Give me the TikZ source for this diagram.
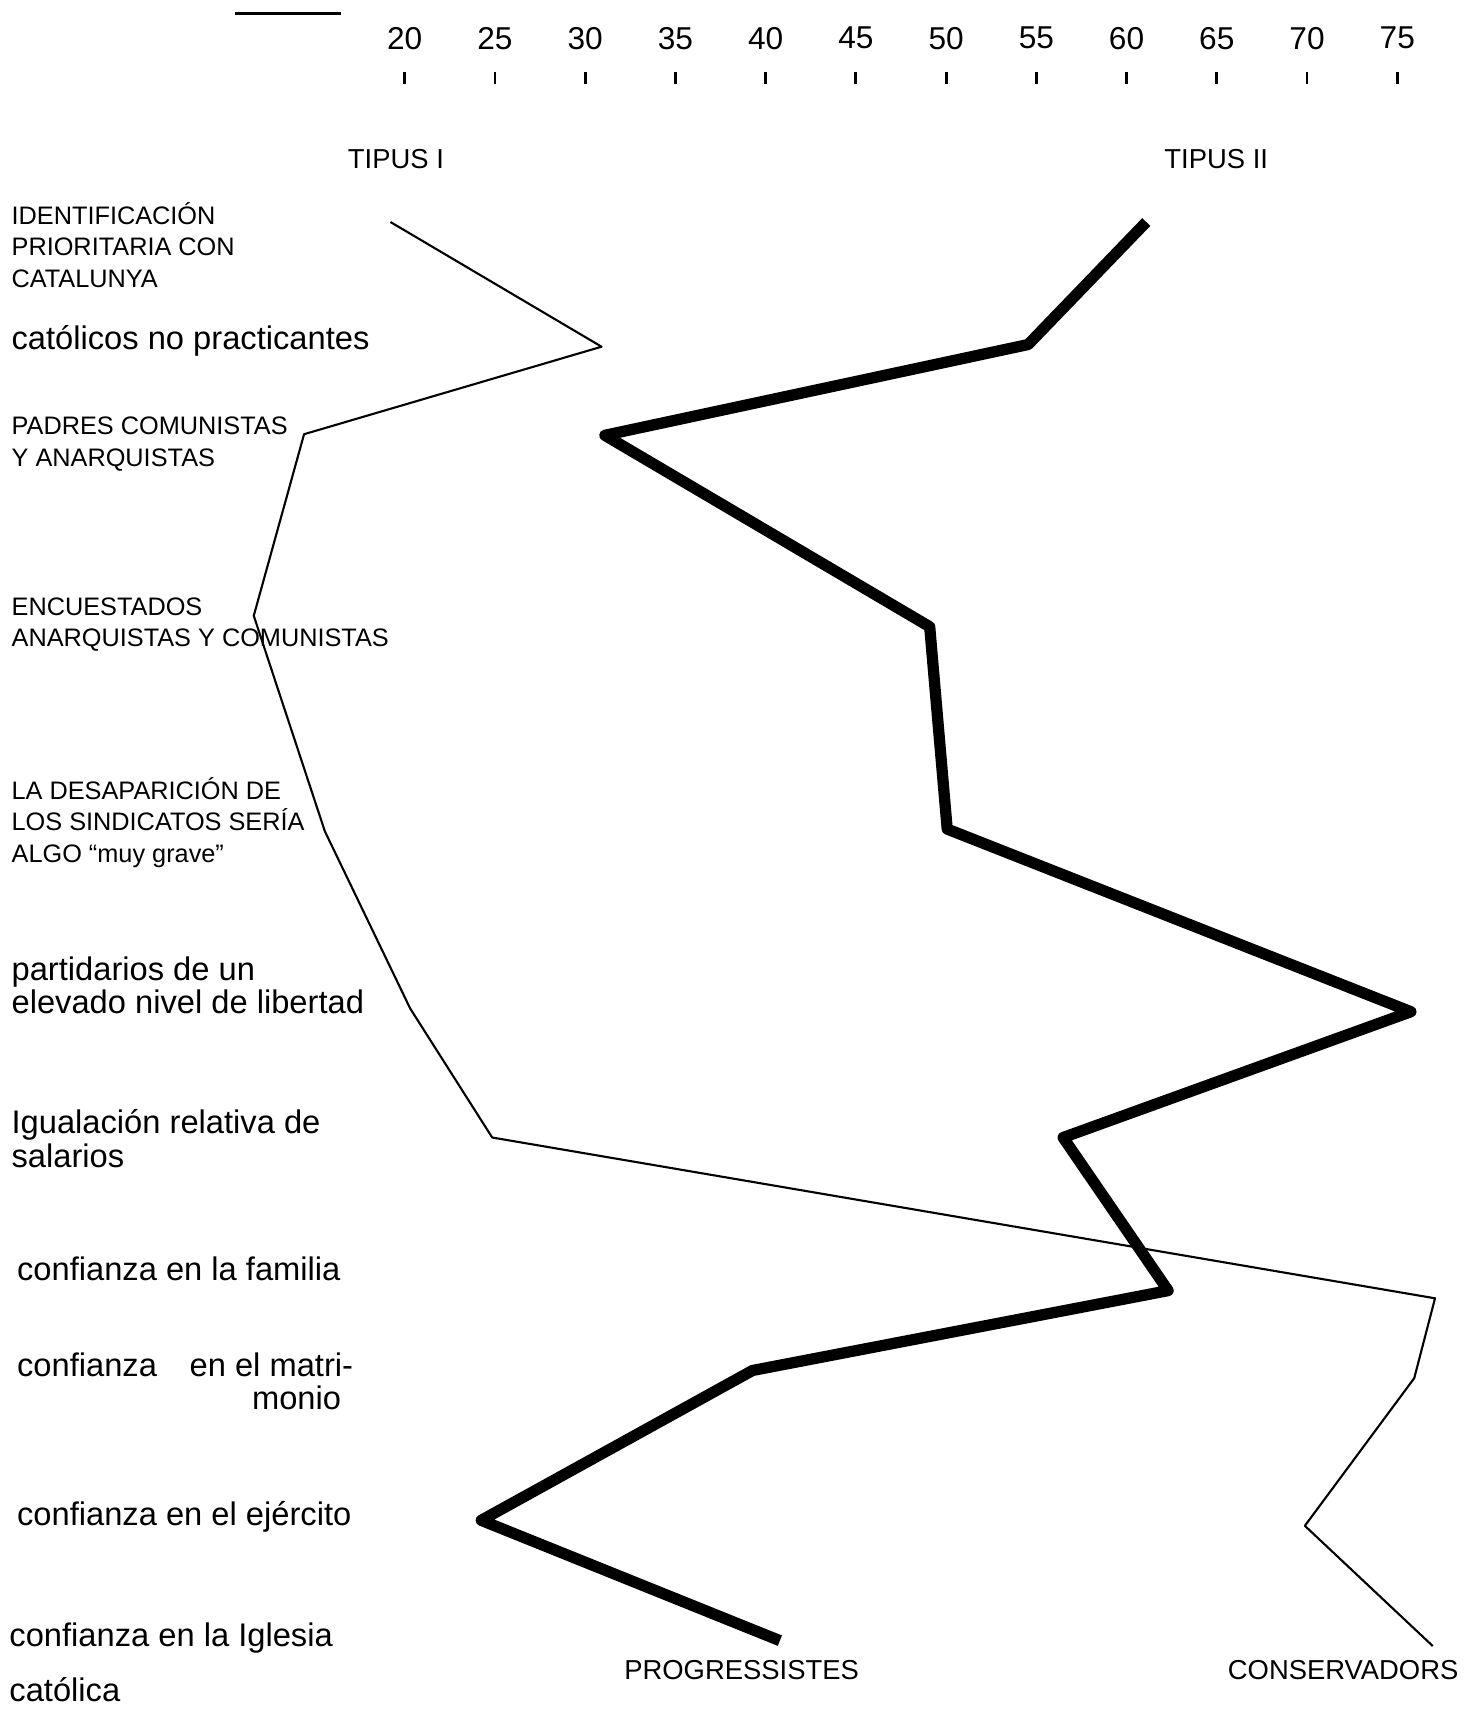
\documentclass[tikz,border=0pt]{standalone}
\usepackage{fontspec}
\setmainfont{Liberation Sans}
\begin{document}
\begin{tikzpicture}[x=0.01094cm,y=-0.01094cm,
  item/.style={anchor=west,align=left,font=\fontsize{9.3}{9.5}\selectfont,inner sep=0pt},
  capitem/.style={anchor=west,align=left,font=\fontsize{7.2}{9}\selectfont,inner sep=0pt},
  num/.style={font=\fontsize{9}{11}\selectfont,inner sep=0pt},
  head/.style={font=\fontsize{7.8}{10}\selectfont,inner sep=0pt},
  tipus1/.style={line width=0.6pt,line join=round},
  tipus2/.style={line width=3.2pt,line join=round}]
\useasboundingbox (0,0) rectangle (1351,1568);
% scale
\draw[line width=0.8pt] (215,12) -- (312,12);
\foreach \v [count=\i from 0] in {20,25,30,35,40,45,50,55,60,65,70,75} {
  \node[num] (n\v) at (370+82.5*\i,35) {\v};
  \draw[line width=0.8pt] (370+82.5*\i,66) -- (370+82.5*\i,77);
}
\node[head] (tI) at (362,145) {TIPUS I};
\node[head] (tII) at (1112,145) {TIPUS II};
% items
\node[capitem] (i1) at (10,224) {IDENTIFICACIÓN\\PRIORITARIA CON\\CATALUNYA};
\node[item] (i2) at (10,312) {católicos no practicantes};
\node[capitem] (i3) at (10,406) {PADRES COMUNISTAS\\Y ANARQUISTAS};
\node[capitem] (i4) at (10,571) {ENCUESTADOS\\ANARQUISTAS Y COMUNISTAS};
\node[capitem] (i5) at (10,752) {LA DESAPARICIÓN DE\\LOS SINDICATOS SERÍA\\ALGO ``muy grave''};
\node[item] (i6) at (10,901) {partidarios de un\\elevado nivel de libertad};
\node[item] (i7) at (10,1041) {Igualación relativa de\\salarios};
\node[item] (i8) at (15,1160) {confianza en la familia};
\node[item] (i9) at (15,1263) {confianza\quad en el matri-\\\hspace*{2.35cm}monio};
\node[item] (i10) at (15,1387) {confianza en el ejército};
\node[item,font=\fontsize{9.3}{15.5}\selectfont] (i11) at (8,1520) {confianza en la Iglesia\\católica};
\node[head] (prog) at (678,1527) {PROGRESSISTES};
\node[head] (cons) at (1228,1527) {CONSERVADORS};
% tipus I
\coordinate (a1) at (357,203);
\coordinate (a2) at (550,317);
\coordinate (a3) at (278,397);
\coordinate (a4) at (232,563);
\coordinate (a5) at (297,760);
\coordinate (a6) at (375,922);
\coordinate (a7) at (450,1040);
\coordinate (a8) at (1312,1187);
\coordinate (a9) at (1293,1260);
\coordinate (a10) at (1193,1395);
\coordinate (a11) at (1310,1505);
\draw[tipus1] (a1) -- (a2) -- (a3) -- (a4) -- (a5) -- (a6) -- (a7) -- (a8) -- (a9) -- (a10) -- (a11);
% tipus II
\coordinate (b1) at (1048,203);
\coordinate (b2) at (940,315);
\coordinate (b3) at (553,398);
\coordinate (b4) at (850,573);
\coordinate (b5) at (866,758);
\coordinate (b6) at (1290,925);
\coordinate (b7) at (972,1040);
\coordinate (b8) at (1068,1180);
\coordinate (b9) at (688,1253);
\coordinate (b10) at (440,1390);
\coordinate (b11) at (713,1500);
\draw[tipus2] (b1) -- (b2) -- (b3) -- (b4) -- (b5) -- (b6) -- (b7) -- (b8) -- (b9) -- (b10) -- (b11);
\end{tikzpicture}
\end{document}
